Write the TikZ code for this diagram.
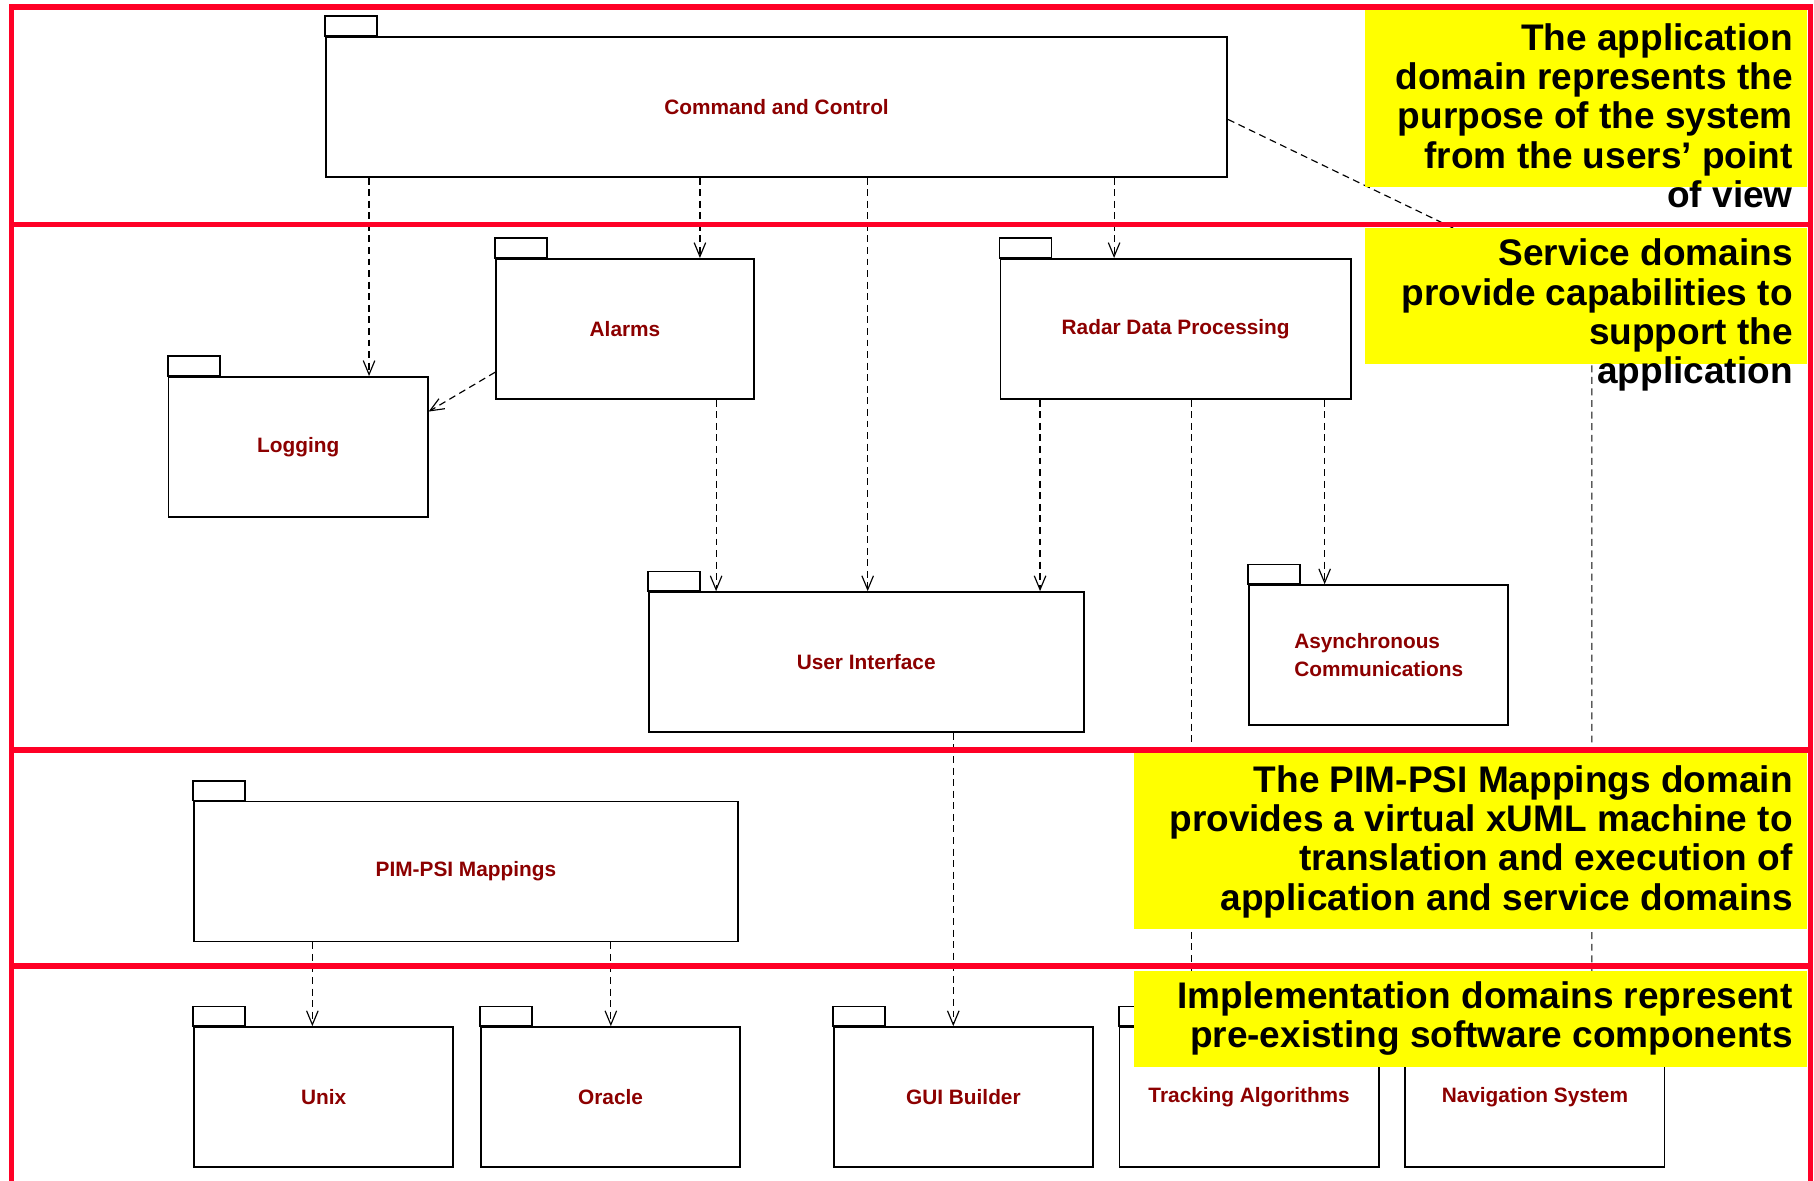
\documentclass[tikz,border=0pt]{standalone}
\usepackage{fontspec}
\setmainfont{Liberation Sans}
\usetikzlibrary{arrows.meta}

\definecolor{framered}{RGB}{255,0,38}
\definecolor{notebg}{RGB}{255,255,0}
\definecolor{pkgtext}{RGB}{140,0,0}

\tikzset{
  pkgbody/.style={draw=black, line width=0.75pt, fill=white, rectangle,
    anchor=north west, inner sep=0pt, minimum height=60.5pt,
    font=\bfseries\fontsize{9pt}{12pt}\selectfont, text=pkgtext, align=center},
  pkgtab/.style={draw=black, line width=0.75pt, fill=white},
  dep/.style={draw=black, line width=0.5pt, dash pattern=on 3pt off 2pt,
    -{Straight Barb[length=6pt,width=5pt,line width=0.5pt]}},
  note/.style={fill=notebg, draw=none},
  notetext/.style={anchor=north east, inner sep=0pt, align=right,
    font=\bfseries\fontsize{16pt}{17pt}\selectfont},
  redrule/.style={draw=framered, line width=2.5pt, line join=miter},
}

% UML package: optional node options, name, left x, top y of body, width, label
\newcommand{\umlpkg}[6][]{%
  \draw[pkgtab] (#3,#4) rectangle ++(45,-17);
  \node[pkgbody, minimum width=#5*0.5pt, #1] (#2) at (#3,#4) {#6};
}

\begin{document}
\begin{tikzpicture}[x=0.5pt,y=-0.5pt]
\useasboundingbox (0,0) rectangle (1568,1020);
\fill[white] (0,0) rectangle (1568,1020);

% packages
\umlpkg{cc}{281}{31}{779}{Command and Control}
\umlpkg{al}{428}{223}{223}{Alarms}
\umlpkg{rdp}{864}{223}{303}{Radar Data Processing}
\umlpkg{lg}{145}{325}{224}{Logging}
\umlpkg{ui}{560}{511}{376}{User Interface}
\umlpkg[align=left]{ac}{1079}{505}{224}{Asynchronous\\Communications}
\umlpkg{pim}{167}{692}{470}{PIM-PSI Mappings}
\umlpkg{ux}{167}{887}{224}{Unix}
\umlpkg{ora}{415}{887}{224}{Oracle}
\umlpkg{gui}{720}{887}{224}{GUI Builder}
\umlpkg{trk}{967}{887}{224}{Tracking Algorithms}
\umlpkg{nav}{1214}{887}{224}{Navigation System}

% columns of the vertical dependencies
\coordinate (xlg) at (319,0);
\coordinate (xal) at (605,0);
\coordinate (xui) at (750,0);
\coordinate (xrdp) at (963,0);
\coordinate (xalui) at (619,0);
\coordinate (xrdpui) at (899,0);
\coordinate (xtrk) at (1030,0);
\coordinate (xac) at (1145,0);
\coordinate (xgui) at (824,0);
\coordinate (xux) at (270,0);
\coordinate (xora) at (528,0);

% dependencies
\draw[dep] (cc.south -| xlg) -- (lg.north -| xlg);
\draw[dep] (cc.south -| xal) -- (al.north -| xal);
\draw[dep] (cc.south -| xui) -- (ui.north -| xui);
\draw[dep] (cc.south -| xrdp) -- (rdp.north -| xrdp);
\coordinate (ccout) at ([yshift=-5.5pt]cc.east);
\coordinate (bend) at (1376,255);
\draw[dep] (ccout) -- (bend) -- (nav.north -| bend);
\draw[dep] ([yshift=-18.75pt]al.west) -- ([yshift=15.25pt]lg.east);
\draw[dep] (al.south -| xalui) -- (ui.north -| xalui);
\draw[dep] (rdp.south -| xrdpui) -- (ui.north -| xrdpui);
\draw[dep] (rdp.south -| xtrk) -- (trk.north -| xtrk);
\draw[dep] (rdp.south -| xac) -- (ac.north -| xac);
\draw[dep] (ui.south -| xgui) -- (gui.north -| xgui);
\draw[dep] (pim.south -| xux) -- (ux.north -| xux);
\draw[dep] (pim.south -| xora) -- (ora.north -| xora);

% note backgrounds
\fill[note] (1180,9) rectangle (1562,162);
\fill[note] (1180,197) rectangle (1562,315);
\fill[note] (980,650) rectangle (1562,803);
\fill[note] (980,839) rectangle (1562,922);

% layer frame
\draw[redrule] (10,1030) -- (10,6) -- (1565,6) -- (1565,1030);
\draw[redrule] (10,194) -- (1565,194);
\draw[redrule] (10,648) -- (1565,648);
\draw[redrule] (10,835) -- (1565,835);

% notes
\node[notetext] (napp) at (1550,19.7) {The application\\domain represents the\\purpose of the system\\from the users’ point\\of view};
\node[notetext] (nsrv) at (1550,206.1) {Service domains\\provide capabilities to\\support the\\application};
\node[notetext] (npim) at (1550,661.1) {The PIM-PSI Mappings domain\\provides a virtual xUML machine to\\translation and execution of\\application and service domains};
\node[notetext] (nimp) at (1550,848.1) {Implementation domains represent\\pre-existing software components};
\end{tikzpicture}
\end{document}
